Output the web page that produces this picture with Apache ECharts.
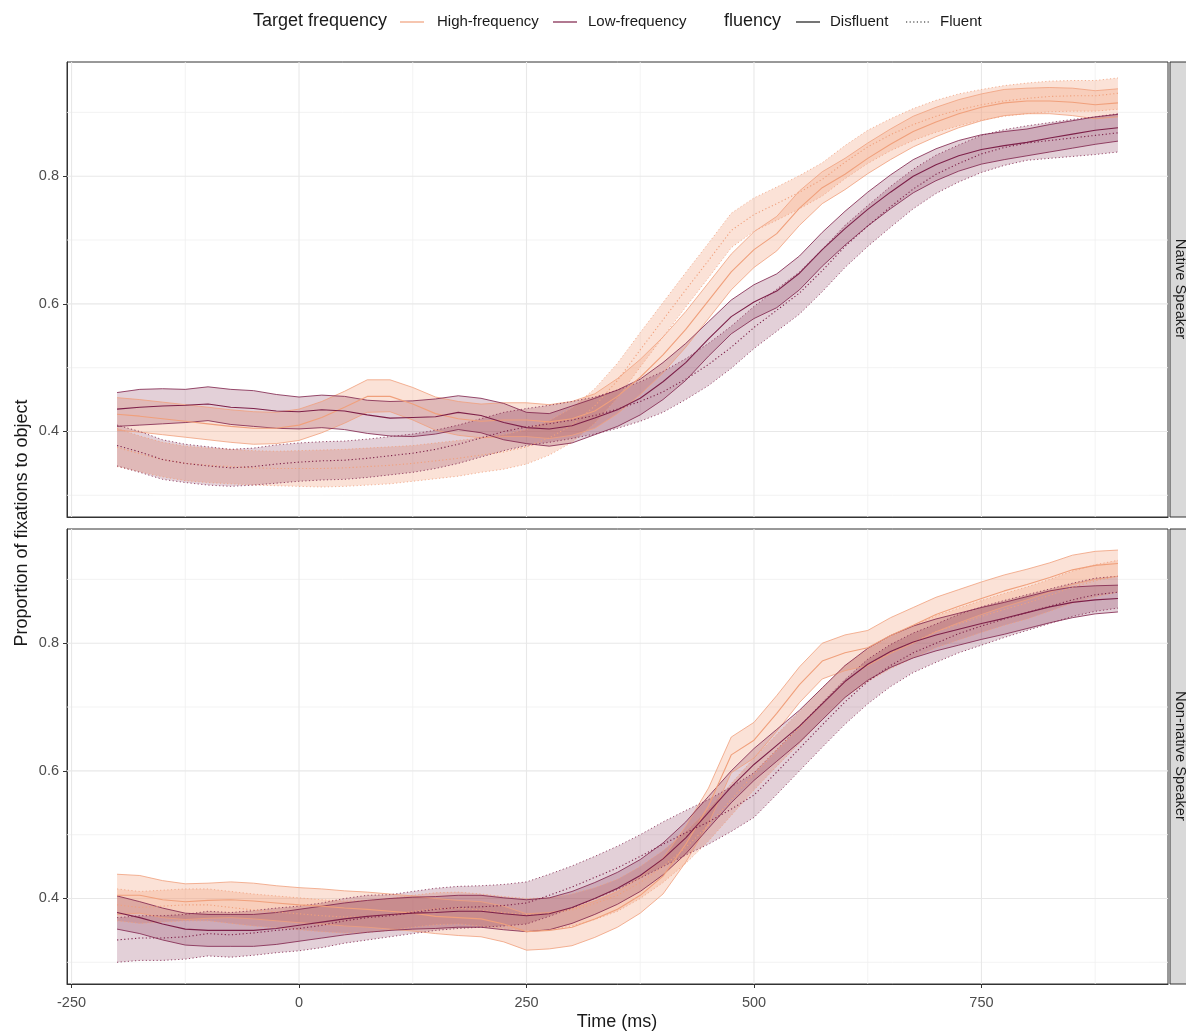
<!DOCTYPE html>
<html><head><meta charset="utf-8">
<script src="https://cdn.jsdelivr.net/npm/echarts@6/dist/echarts.min.js"></script>
<style>html,body{margin:0;padding:0;background:#fff}#c{width:1186px;height:1032px}</style>
</head><body><div id="c"></div>
<script>
// ---- data ----
const times = [-200,-175,-150,-125,-100,-75,-50,-25,0,25,50,75,100,125,150,175,200,225,250,275,300,325,350,375,400,425,450,475,500,525,550,575,600,625,650,675,700,725,750,775,800,825,850,875,900];
const xTickLabels = [-250,0,250,500,750];
const xMinorGrid = [-125,125,375,625,875];
const yTickLabels = [0.4,0.6,0.8];
const yMinorGrid = [0.3,0.5,0.7,0.9];
const panels = ['Native Speaker','Non-native Speaker'];

// Native speaker
const nat_hf_dis_mean = [0.427,0.424,0.420,0.416,0.412,0.408,0.405,0.405,0.410,0.422,0.438,0.455,0.455,0.443,0.428,0.420,0.416,0.418,0.418,0.415,0.420,0.432,0.455,0.485,0.520,0.560,0.605,0.650,0.685,0.710,0.750,0.782,0.803,0.828,0.850,0.870,0.885,0.898,0.908,0.915,0.918,0.918,0.916,0.912,0.915];
const nat_hf_dis_low  = [0.402,0.399,0.395,0.391,0.387,0.383,0.380,0.381,0.386,0.398,0.413,0.430,0.431,0.418,0.402,0.394,0.390,0.392,0.392,0.389,0.394,0.405,0.428,0.458,0.492,0.532,0.577,0.622,0.657,0.683,0.723,0.757,0.779,0.804,0.826,0.846,0.862,0.876,0.887,0.895,0.898,0.898,0.895,0.890,0.893];
const nat_hf_dis_high = [0.453,0.450,0.446,0.442,0.438,0.434,0.431,0.430,0.435,0.447,0.463,0.481,0.481,0.469,0.454,0.447,0.443,0.445,0.445,0.442,0.447,0.459,0.483,0.513,0.548,0.588,0.633,0.678,0.713,0.737,0.777,0.807,0.828,0.852,0.874,0.894,0.908,0.920,0.929,0.936,0.938,0.939,0.938,0.934,0.937];

const nat_hf_flu_mean = [0.375,0.365,0.356,0.350,0.347,0.345,0.343,0.342,0.342,0.342,0.343,0.345,0.347,0.350,0.354,0.358,0.363,0.368,0.376,0.390,0.410,0.440,0.480,0.528,0.575,0.622,0.668,0.715,0.740,0.757,0.775,0.795,0.822,0.846,0.865,0.881,0.894,0.904,0.912,0.918,0.922,0.925,0.926,0.926,0.930];
const nat_hf_flu_low  = [0.345,0.337,0.329,0.323,0.320,0.318,0.316,0.315,0.314,0.313,0.314,0.316,0.318,0.322,0.326,0.330,0.336,0.341,0.349,0.363,0.383,0.413,0.453,0.501,0.548,0.595,0.641,0.688,0.714,0.731,0.749,0.769,0.796,0.820,0.840,0.856,0.869,0.879,0.888,0.894,0.898,0.901,0.902,0.902,0.905];
const nat_hf_flu_high = [0.405,0.393,0.383,0.377,0.374,0.372,0.370,0.369,0.370,0.371,0.372,0.374,0.376,0.378,0.382,0.386,0.390,0.395,0.403,0.417,0.437,0.467,0.507,0.555,0.602,0.649,0.695,0.742,0.766,0.783,0.801,0.821,0.848,0.872,0.890,0.906,0.919,0.929,0.936,0.942,0.946,0.949,0.950,0.950,0.954];

const nat_lf_dis_mean = [0.435,0.438,0.440,0.441,0.443,0.438,0.436,0.432,0.431,0.434,0.432,0.426,0.421,0.422,0.423,0.430,0.425,0.414,0.406,0.404,0.409,0.421,0.434,0.452,0.478,0.508,0.545,0.580,0.603,0.620,0.648,0.685,0.718,0.748,0.775,0.800,0.818,0.832,0.842,0.848,0.853,0.860,0.866,0.872,0.876];
const nat_lf_dis_low  = [0.408,0.410,0.412,0.414,0.417,0.411,0.408,0.405,0.404,0.406,0.403,0.397,0.393,0.392,0.396,0.403,0.398,0.387,0.381,0.377,0.382,0.395,0.408,0.426,0.450,0.480,0.518,0.553,0.577,0.594,0.622,0.659,0.692,0.722,0.749,0.774,0.793,0.808,0.819,0.826,0.832,0.838,0.844,0.850,0.855];
const nat_lf_dis_high = [0.461,0.466,0.467,0.466,0.470,0.466,0.464,0.458,0.454,0.457,0.455,0.449,0.447,0.448,0.451,0.456,0.452,0.444,0.430,0.428,0.440,0.452,0.465,0.482,0.508,0.538,0.572,0.606,0.630,0.647,0.675,0.712,0.745,0.775,0.802,0.826,0.843,0.856,0.865,0.870,0.874,0.881,0.887,0.893,0.897];

const nat_lf_flu_mean = [0.378,0.368,0.356,0.350,0.346,0.343,0.345,0.349,0.352,0.354,0.355,0.358,0.362,0.366,0.372,0.380,0.390,0.400,0.407,0.412,0.418,0.425,0.435,0.447,0.462,0.482,0.505,0.532,0.563,0.590,0.617,0.652,0.690,0.722,0.752,0.780,0.803,0.820,0.835,0.845,0.852,0.856,0.860,0.864,0.868];
const nat_lf_flu_low  = [0.346,0.336,0.325,0.320,0.316,0.314,0.316,0.319,0.322,0.324,0.325,0.328,0.332,0.336,0.342,0.350,0.360,0.370,0.378,0.383,0.389,0.396,0.405,0.416,0.430,0.450,0.472,0.499,0.530,0.557,0.584,0.619,0.657,0.690,0.720,0.749,0.773,0.791,0.806,0.817,0.825,0.828,0.831,0.834,0.838];
const nat_lf_flu_high = [0.410,0.400,0.387,0.380,0.376,0.372,0.374,0.379,0.382,0.384,0.385,0.388,0.392,0.396,0.402,0.410,0.420,0.430,0.436,0.441,0.447,0.454,0.465,0.478,0.494,0.514,0.538,0.565,0.596,0.623,0.650,0.685,0.723,0.754,0.784,0.811,0.833,0.849,0.864,0.873,0.879,0.884,0.889,0.893,0.898];

// Non-native speaker
const non_hf_dis_mean = [0.405,0.405,0.398,0.395,0.397,0.398,0.396,0.393,0.390,0.388,0.385,0.383,0.380,0.377,0.372,0.370,0.368,0.360,0.348,0.350,0.355,0.368,0.383,0.405,0.435,0.485,0.545,0.625,0.648,0.690,0.735,0.772,0.785,0.793,0.812,0.828,0.845,0.858,0.870,0.882,0.892,0.903,0.915,0.922,0.925];
const non_hf_dis_low  = [0.375,0.377,0.370,0.367,0.369,0.370,0.368,0.365,0.362,0.360,0.357,0.355,0.352,0.349,0.345,0.342,0.340,0.332,0.319,0.321,0.326,0.339,0.355,0.377,0.407,0.457,0.517,0.597,0.620,0.662,0.707,0.744,0.757,0.765,0.784,0.800,0.818,0.832,0.845,0.857,0.868,0.880,0.892,0.900,0.905];
const non_hf_dis_high = [0.438,0.436,0.428,0.423,0.424,0.426,0.424,0.420,0.417,0.415,0.412,0.410,0.407,0.404,0.400,0.397,0.395,0.388,0.376,0.378,0.384,0.396,0.411,0.433,0.463,0.513,0.573,0.653,0.676,0.718,0.763,0.800,0.813,0.820,0.840,0.856,0.872,0.884,0.896,0.907,0.916,0.926,0.938,0.944,0.946];

const non_hf_flu_mean = [0.390,0.386,0.388,0.390,0.390,0.386,0.382,0.379,0.376,0.373,0.371,0.372,0.375,0.380,0.384,0.385,0.382,0.378,0.375,0.376,0.382,0.392,0.405,0.425,0.450,0.480,0.515,0.555,0.595,0.632,0.668,0.705,0.740,0.765,0.785,0.802,0.818,0.830,0.842,0.853,0.863,0.875,0.888,0.898,0.905];
const non_hf_flu_low  = [0.365,0.361,0.363,0.365,0.365,0.361,0.357,0.354,0.351,0.348,0.346,0.347,0.350,0.355,0.359,0.360,0.357,0.353,0.350,0.351,0.357,0.367,0.380,0.400,0.425,0.455,0.490,0.530,0.570,0.607,0.643,0.680,0.715,0.740,0.760,0.777,0.793,0.805,0.817,0.828,0.838,0.850,0.863,0.873,0.880];
const non_hf_flu_high = [0.415,0.411,0.413,0.415,0.415,0.411,0.407,0.404,0.401,0.398,0.396,0.397,0.400,0.405,0.409,0.410,0.407,0.403,0.400,0.401,0.407,0.417,0.430,0.450,0.475,0.505,0.540,0.580,0.620,0.657,0.693,0.730,0.765,0.790,0.810,0.827,0.843,0.855,0.867,0.878,0.888,0.900,0.913,0.923,0.930];

const non_lf_dis_mean = [0.378,0.370,0.360,0.352,0.350,0.350,0.350,0.353,0.358,0.363,0.368,0.372,0.375,0.377,0.378,0.380,0.380,0.376,0.373,0.376,0.386,0.400,0.416,0.436,0.462,0.495,0.535,0.575,0.610,0.640,0.670,0.705,0.740,0.767,0.787,0.802,0.813,0.822,0.831,0.839,0.848,0.857,0.864,0.868,0.870];
const non_lf_dis_low  = [0.352,0.345,0.335,0.327,0.325,0.325,0.325,0.328,0.333,0.338,0.343,0.347,0.350,0.352,0.353,0.355,0.355,0.351,0.348,0.351,0.361,0.375,0.391,0.411,0.437,0.470,0.510,0.550,0.585,0.615,0.645,0.680,0.715,0.742,0.762,0.777,0.788,0.797,0.806,0.814,0.823,0.832,0.840,0.846,0.849];
const non_lf_dis_high = [0.404,0.395,0.385,0.377,0.375,0.375,0.375,0.378,0.383,0.388,0.393,0.397,0.400,0.402,0.403,0.405,0.405,0.401,0.398,0.401,0.411,0.425,0.441,0.461,0.487,0.520,0.560,0.600,0.635,0.665,0.695,0.730,0.765,0.792,0.812,0.827,0.838,0.847,0.856,0.864,0.873,0.882,0.888,0.890,0.891];

const non_lf_flu_mean = [0.335,0.338,0.338,0.340,0.345,0.343,0.346,0.350,0.353,0.358,0.365,0.370,0.373,0.378,0.383,0.386,0.387,0.389,0.393,0.405,0.418,0.433,0.448,0.466,0.485,0.503,0.520,0.540,0.562,0.598,0.635,0.672,0.708,0.740,0.765,0.785,0.800,0.815,0.827,0.838,0.848,0.858,0.868,0.876,0.880];
const non_lf_flu_low  = [0.300,0.303,0.303,0.305,0.310,0.308,0.311,0.315,0.318,0.323,0.330,0.335,0.340,0.345,0.350,0.353,0.355,0.357,0.360,0.372,0.385,0.400,0.414,0.432,0.450,0.468,0.485,0.505,0.527,0.563,0.600,0.637,0.673,0.705,0.732,0.754,0.770,0.785,0.797,0.809,0.820,0.831,0.842,0.850,0.855];
const non_lf_flu_high = [0.370,0.373,0.373,0.375,0.380,0.378,0.381,0.385,0.388,0.393,0.400,0.405,0.406,0.411,0.416,0.419,0.420,0.422,0.426,0.438,0.451,0.466,0.482,0.500,0.520,0.538,0.555,0.575,0.597,0.633,0.670,0.707,0.743,0.775,0.798,0.816,0.830,0.845,0.857,0.867,0.876,0.885,0.894,0.902,0.905];

// ---- styling ----
const FONT = 'Liberation Sans, Arial, sans-serif';
const HF_COL = '#F0A07C';
const LF_COL = '#7D2049';
const HF_FILL = 'rgba(241,160,124,0.30)';
const LF_FILL = 'rgba(125,32,73,0.21)';
const DOT = [1.2, 2.4];

const groups = [
  [ {c:nat_hf_dis_mean, lo:nat_hf_dis_low, hi:nat_hf_dis_high, col:HF_COL, fill:HF_FILL, dotted:false},
    {c:nat_hf_flu_mean, lo:nat_hf_flu_low, hi:nat_hf_flu_high, col:HF_COL, fill:HF_FILL, dotted:true},
    {c:nat_lf_dis_mean, lo:nat_lf_dis_low, hi:nat_lf_dis_high, col:LF_COL, fill:LF_FILL, dotted:false},
    {c:nat_lf_flu_mean, lo:nat_lf_flu_low, hi:nat_lf_flu_high, col:LF_COL, fill:LF_FILL, dotted:true} ],
  [ {c:non_hf_dis_mean, lo:non_hf_dis_low, hi:non_hf_dis_high, col:HF_COL, fill:HF_FILL, dotted:false},
    {c:non_hf_flu_mean, lo:non_hf_flu_low, hi:non_hf_flu_high, col:HF_COL, fill:HF_FILL, dotted:true},
    {c:non_lf_dis_mean, lo:non_lf_dis_low, hi:non_lf_dis_high, col:LF_COL, fill:LF_FILL, dotted:false},
    {c:non_lf_flu_mean, lo:non_lf_flu_low, hi:non_lf_flu_high, col:LF_COL, fill:LF_FILL, dotted:true} ]
];

const GRID_LEFT = 67, GRID_W = 1101, GRID_H = 455;
const gridTops = [62, 529];
const X_MIN = -255, X_MAX = 955, Y_MIN = 0.266, Y_MAX = 0.979;

const series = [];
function pairs(arr){ return times.map((t,i)=>[t, arr[i]]); }
function gridLine(p, pts, color, width){
  series.push({type:'line', xAxisIndex:p, yAxisIndex:p, data:pts, symbol:'none', showSymbol:false,
    silent:true, z:1, animation:false, lineStyle:{color:color, width:width, type:'solid'}});
}

for (let p = 0; p < 2; p++) {
  // panel gridlines (under the ribbons)
  yMinorGrid.forEach(v=>gridLine(p, [[X_MIN,v],[X_MAX,v]], '#F0F0F0', 0.8));
  xMinorGrid.forEach(v=>gridLine(p, [[v,Y_MIN],[v,Y_MAX]], '#F0F0F0', 0.8));
  yTickLabels.forEach(v=>gridLine(p, [[X_MIN,v],[X_MAX,v]], '#E8E8E8', 1.1));
  xTickLabels.forEach(v=>gridLine(p, [[v,Y_MIN],[v,Y_MAX]], '#E8E8E8', 1.1));

  groups[p].forEach(g=>{
    series.push({type:'custom', xAxisIndex:p, yAxisIndex:p, silent:true, z:2, animation:false,
      data:[[times[0], g.lo[0]]],
      renderItem:(params, api)=>{
        const pts = [];
        for (let i=0;i<times.length;i++) pts.push(api.coord([times[i], g.hi[i]]));
        for (let i=times.length-1;i>=0;i--) pts.push(api.coord([times[i], g.lo[i]]));
        return {type:'polygon', shape:{points:pts}, style:{fill:g.fill, stroke:null}};
      }});
    [g.lo, g.hi].forEach(arr=>{
      series.push({type:'line', xAxisIndex:p, yAxisIndex:p, data:pairs(arr), symbol:'none', showSymbol:false,
        silent:true, z:3, animation:false,
        lineStyle:{color:g.col, width:0.8, type:g.dotted?DOT:'solid'}});
    });
  });
  groups[p].forEach(g=>{
    series.push({type:'line', xAxisIndex:p, yAxisIndex:p, data:pairs(g.c), symbol:'none', showSymbol:false,
      silent:true, z:4, animation:false,
      lineStyle:{color:g.col, width:1.1, type:g.dotted?DOT:'solid'}});
  });
}

const grids = gridTops.map(t=>({left:GRID_LEFT, top:t, width:GRID_W, height:GRID_H, show:true,
  borderColor:'#333333', borderWidth:1, backgroundColor:'rgba(0,0,0,0)'}));

const xAxes = [0,1].map(p=>({gridIndex:p, type:'value', min:X_MIN, max:X_MAX,
  splitLine:{show:false},
  axisLine:{show:true, onZero:false, lineStyle:{color:'#333333', width:1}},
  axisTick:{show:p===1, length:4, customValues:xTickLabels, lineStyle:{color:'#333333'}},
  axisLabel:{show:p===1, customValues:xTickLabels, color:'#4D4D4D', fontSize:14.5, fontFamily:FONT, margin:11}}));
const yAxes = [0,1].map(p=>({gridIndex:p, type:'value', min:Y_MIN, max:Y_MAX,
  splitLine:{show:false},
  axisLine:{show:true, onZero:false, lineStyle:{color:'#333333', width:1}},
  axisTick:{show:true, length:4, customValues:yTickLabels, lineStyle:{color:'#333333'}},
  axisLabel:{customValues:yTickLabels, formatter:v=>Number(v).toFixed(1), color:'#4D4D4D', fontSize:14.5, fontFamily:FONT, margin:8}}));

const TXT = '#1A1A1A';
const graphic = [
  // legend
  {type:'text', left:253, top:12, style:{text:'Target frequency', fontSize:18, fontFamily:FONT, fill:TXT}},
  {type:'line', shape:{x1:400,y1:22,x2:424,y2:22}, style:{stroke:HF_COL, lineWidth:1.2}},
  {type:'text', left:437, top:14, style:{text:'High-frequency', fontSize:15, fontFamily:FONT, fill:TXT}},
  {type:'line', shape:{x1:553,y1:22,x2:577,y2:22}, style:{stroke:LF_COL, lineWidth:1.2}},
  {type:'text', left:588, top:14, style:{text:'Low-frequency', fontSize:15, fontFamily:FONT, fill:TXT}},
  {type:'text', left:724, top:12, style:{text:'fluency', fontSize:18, fontFamily:FONT, fill:TXT}},
  {type:'line', shape:{x1:796,y1:22,x2:820,y2:22}, style:{stroke:'#1A1A1A', lineWidth:1.2}},
  {type:'text', left:830, top:14, style:{text:'Disfluent', fontSize:15, fontFamily:FONT, fill:TXT}},
  {type:'line', shape:{x1:906,y1:22,x2:930,y2:22}, style:{stroke:'#1A1A1A', lineWidth:1.2, lineDash:DOT}},
  {type:'text', left:940, top:14, style:{text:'Fluent', fontSize:15, fontFamily:FONT, fill:TXT}},
  // axis titles
  {type:'text', x:617, y:1022, style:{text:'Time (ms)', fontSize:18, fontFamily:FONT, fill:TXT, textAlign:'center', textVerticalAlign:'middle'}},
  {type:'text', x:22, y:523, rotation:Math.PI/2, style:{text:'Proportion of fixations to object', fontSize:18, fontFamily:FONT, fill:TXT, textAlign:'center', textVerticalAlign:'middle'}},
  // strips
  {type:'rect', shape:{x:1170, y:62, width:30, height:455}, style:{fill:'#D9D9D9', stroke:'#333333', lineWidth:1}},
  {type:'rect', shape:{x:1170, y:529, width:30, height:455}, style:{fill:'#D9D9D9', stroke:'#333333', lineWidth:1}},
  {type:'text', x:1180, y:289, rotation:-Math.PI/2, style:{text:'Native Speaker', fontSize:14.7, fontFamily:FONT, fill:TXT, textAlign:'center', textVerticalAlign:'middle'}},
  {type:'text', x:1180, y:756, rotation:-Math.PI/2, style:{text:'Non-native Speaker', fontSize:14.7, fontFamily:FONT, fill:TXT, textAlign:'center', textVerticalAlign:'middle'}}
];

const chart = echarts.init(document.getElementById('c'), null, {renderer:'canvas'});
chart.setOption({backgroundColor:'#ffffff', animation:false, grid:grids, xAxis:xAxes, yAxis:yAxes, series:series, graphic:graphic});
</script></body></html>
